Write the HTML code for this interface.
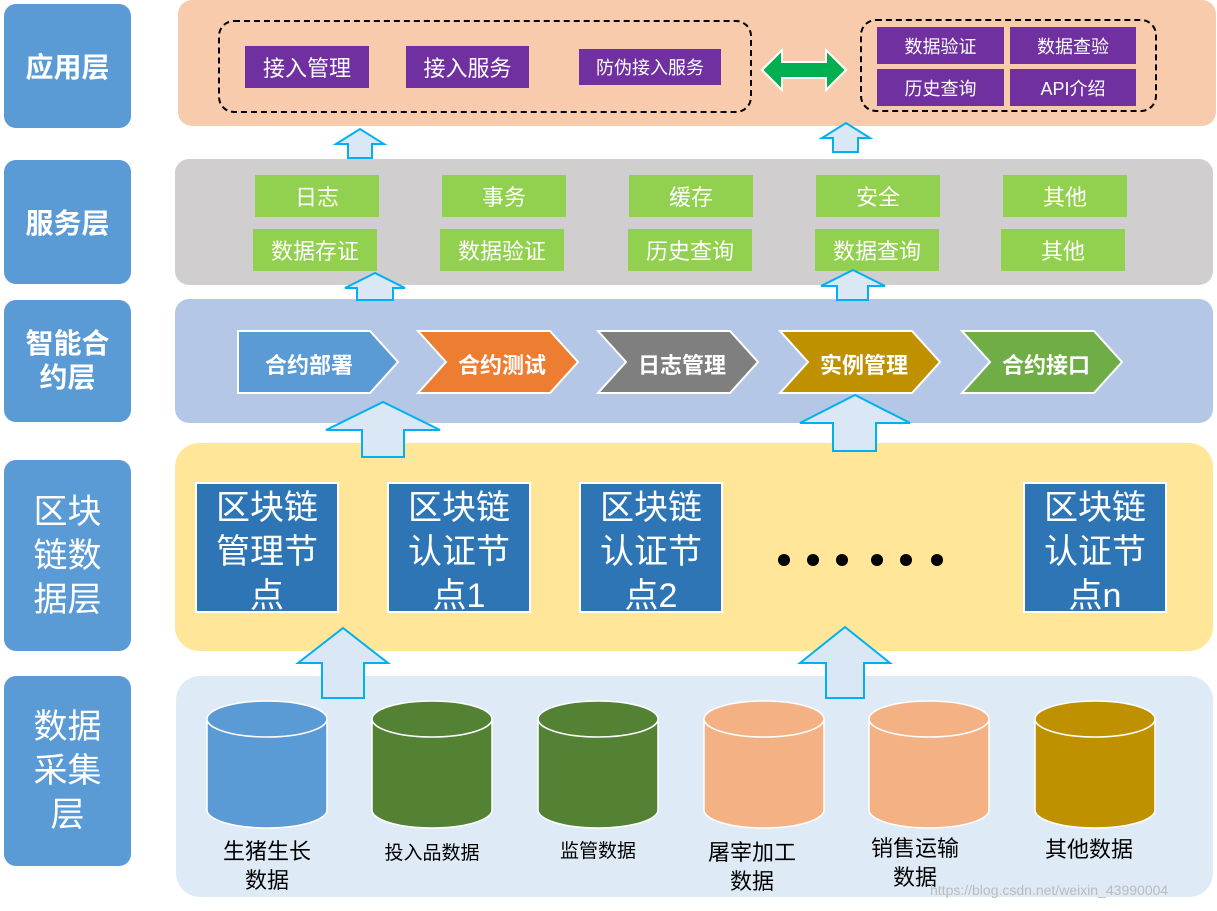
<!DOCTYPE html>
<html><head><meta charset="utf-8"><style>
body{margin:0;width:1217px;height:911px;background:#fff;position:relative;overflow:hidden;font-family:"Liberation Sans","Noto Sans CJK SC",sans-serif}
.a{position:absolute;box-sizing:border-box}
.L{background:#5b9bd5;border-radius:12px;color:#fff;display:flex;align-items:center;justify-content:center;text-align:center;left:4px;width:127px}
.p{background:#7030a0;color:#fff;display:flex;align-items:center;justify-content:center;font-size:21px}
.g{background:#92d050;color:#fff;display:flex;align-items:center;justify-content:center;font-size:22px}
.n{background:#2e75b6;border:2px solid #fff;color:#fff;font-size:34px;line-height:44px;text-align:center;width:144px;height:131px;top:482px;padding-top:2px}
.c{font-size:22px;text-align:center;color:#000;line-height:29px}
</style></head><body>
<div class="a L" style="top:4px;height:124px;font-size:28px;font-weight:bold">应用层</div>
<div class="a L" style="top:160px;height:124px;font-size:28px;font-weight:bold">服务层</div>
<div class="a L" style="top:300px;height:122px;font-size:28px;font-weight:bold;line-height:34px">智能合<br>约层</div>
<div class="a L" style="top:460px;height:191px;font-size:34px;line-height:44px">区块<br>链数<br>据层</div>
<div class="a L" style="top:676px;height:190px;font-size:34px;line-height:44px">数据<br>采集<br>层</div>

<div class="a" style="left:178px;top:0;width:1038px;height:126px;background:#f8cbad;border-radius:14px"></div>
<div class="a" style="left:175px;top:159px;width:1038px;height:126px;background:#d0cece;border-radius:14px"></div>
<div class="a" style="left:175px;top:299px;width:1038px;height:124px;background:#b4c7e7;border-radius:14px"></div>
<div class="a" style="left:175px;top:443px;width:1038px;height:208px;background:#ffe699;border-radius:24px"></div>
<div class="a" style="left:176px;top:676px;width:1037px;height:221px;background:#deebf7;border-radius:24px"></div>

<div class="a" style="left:218px;top:20px;width:534px;height:93px;border:2px dashed #000;border-radius:16px"></div>
<div class="a" style="left:860px;top:19px;width:297px;height:93px;border:2px dashed #000;border-radius:16px"></div>
<div class="a p" style="left:245px;top:46px;width:124px;height:42px;font-size:22px">接入管理</div>
<div class="a p" style="left:406px;top:46px;width:123px;height:42px;font-size:22px">接入服务</div>
<div class="a p" style="left:579px;top:49px;width:142px;height:36px;font-size:18px">防伪接入服务</div>
<div class="a p" style="left:877px;top:27px;width:127px;height:37px;font-size:18px">数据验证</div>
<div class="a p" style="left:1010px;top:27px;width:126px;height:37px;font-size:18px">数据查验</div>
<div class="a p" style="left:877px;top:69px;width:127px;height:37px;font-size:18px">历史查询</div>
<div class="a p" style="left:1010px;top:69px;width:126px;height:37px;font-size:18px">API介绍</div>

<div class="a g" style="left:255px;top:175px;width:124px;height:42px">日志</div>
<div class="a g" style="left:442px;top:175px;width:124px;height:42px">事务</div>
<div class="a g" style="left:629px;top:175px;width:124px;height:42px">缓存</div>
<div class="a g" style="left:816px;top:175px;width:124px;height:42px">安全</div>
<div class="a g" style="left:1003px;top:175px;width:124px;height:42px">其他</div>
<div class="a g" style="left:253px;top:229px;width:124px;height:42px">数据存证</div>
<div class="a g" style="left:440px;top:229px;width:124px;height:42px">数据验证</div>
<div class="a g" style="left:628px;top:229px;width:124px;height:42px">历史查询</div>
<div class="a g" style="left:815px;top:229px;width:124px;height:42px">数据查询</div>
<div class="a g" style="left:1001px;top:229px;width:124px;height:42px">其他</div>

<div class="a n" style="left:195px">区块链<br>管理节<br>点</div>
<div class="a n" style="left:387px">区块链<br>认证节<br>点1</div>
<div class="a n" style="left:579px">区块链<br>认证节<br>点2</div>
<div class="a n" style="left:1023px">区块链<br>认证节<br>点n</div>

<svg class="a" style="left:0;top:0" width="1217" height="911">
<g fill="#dae8f5" stroke="#00b0f0" stroke-width="2">
<polygon points="348,158 348,144 336,144 360,129 384,144 372,144 372,158"/>
<polygon points="833,152 833,138 822,138 846,123 870,138 858,138 858,152"/>
<polygon points="357,300 357,288 345,288 375,273 405,288 393,288 393,300"/>
<polygon points="837,300 837,286 821,286 853,270 885,286 868,286 868,300"/>
<polygon points="362,457 362,430 326,430 383,402 440,430 404,430 404,457"/>
<polygon points="833,451 833,423 800,423 855,395 910,423 876,423 876,451"/>
<polygon points="322,698 322,663 298,663 343,628 388,663 364,663 364,698"/>
<polygon points="826,698 826,663 800,663 845,627 890,663 864,663 864,698"/>
</g>
<polygon points="762,70 782,50 782,62 826,62 826,50 846,70 826,90 826,78 782,78 782,90" fill="#00b050" stroke="#fff" stroke-width="2"/>
<g stroke="#fff" stroke-width="2" font-size="22" font-weight="bold" fill="#fff" font-family="Liberation Sans,Noto Sans CJK SC,sans-serif">
<polygon points="238,331 370,331 398,362 370,393 238,393" fill="#5b9bd5"/>
<polygon points="418,331 550,331 578,362 550,393 418,393 446,362" fill="#ed7d31"/>
<polygon points="598,331 730,331 758,362 730,393 598,393 626,362" fill="#7f7f7f"/>
<polygon points="780,331 912,331 940,362 912,393 780,393 808,362" fill="#bf9000"/>
<polygon points="962,331 1094,331 1122,362 1094,393 962,393 990,362" fill="#70ad47"/>
</g>
<g font-size="22" font-weight="bold" fill="#fff" stroke="none" text-anchor="middle" font-family="Liberation Sans,Noto Sans CJK SC,sans-serif">
<text x="309" y="373">合约部署</text><text x="502" y="373">合约测试</text><text x="682" y="373">日志管理</text><text x="864" y="373">实例管理</text><text x="1046" y="373">合约接口</text>
</g>
<g fill="#000"><circle cx="784" cy="560" r="6"/><circle cx="813" cy="560" r="6"/><circle cx="842" cy="560" r="6"/><circle cx="877" cy="560" r="6"/><circle cx="906" cy="560" r="6"/><circle cx="937" cy="560" r="6"/></g>
<g stroke="#fff" stroke-width="1.5">
<g fill="#5b9bd5"><path d="M207,719 V810 A60,18 0 0 0 327,810 V719"/><ellipse cx="267" cy="719" rx="60" ry="18"/></g>
<g fill="#548235"><path d="M372,719 V810 A60,18 0 0 0 492,810 V719"/><ellipse cx="432" cy="719" rx="60" ry="18"/></g>
<g fill="#548235"><path d="M538,719 V810 A60,18 0 0 0 658,810 V719"/><ellipse cx="598" cy="719" rx="60" ry="18"/></g>
<g fill="#f4b183"><path d="M704,719 V810 A60,18 0 0 0 824,810 V719"/><ellipse cx="764" cy="719" rx="60" ry="18"/></g>
<g fill="#f4b183"><path d="M869,719 V810 A60,18 0 0 0 989,810 V719"/><ellipse cx="929" cy="719" rx="60" ry="18"/></g>
<g fill="#bf9000"><path d="M1035,719 V810 A60,18 0 0 0 1155,810 V719"/><ellipse cx="1095" cy="719" rx="60" ry="18"/></g>
</g>
</svg>
<div class="a c" style="left:197px;top:837px;width:140px">生猪生长<br>数据</div>
<div class="a c" style="left:367px;top:839px;width:130px;font-size:19px">投入品数据</div>
<div class="a c" style="left:528px;top:837px;width:140px;font-size:19px">监管数据</div>
<div class="a c" style="left:682px;top:838px;width:140px">屠宰加工<br>数据</div>
<div class="a c" style="left:845px;top:834px;width:140px">销售运输<br>数据</div>
<div class="a c" style="left:1019px;top:835px;width:140px">其他数据</div>
<div class="a" style="left:930px;top:882px;font-size:14px;color:#bbb">https://blog.csdn.net/weixin_43990004</div>
</body></html>
